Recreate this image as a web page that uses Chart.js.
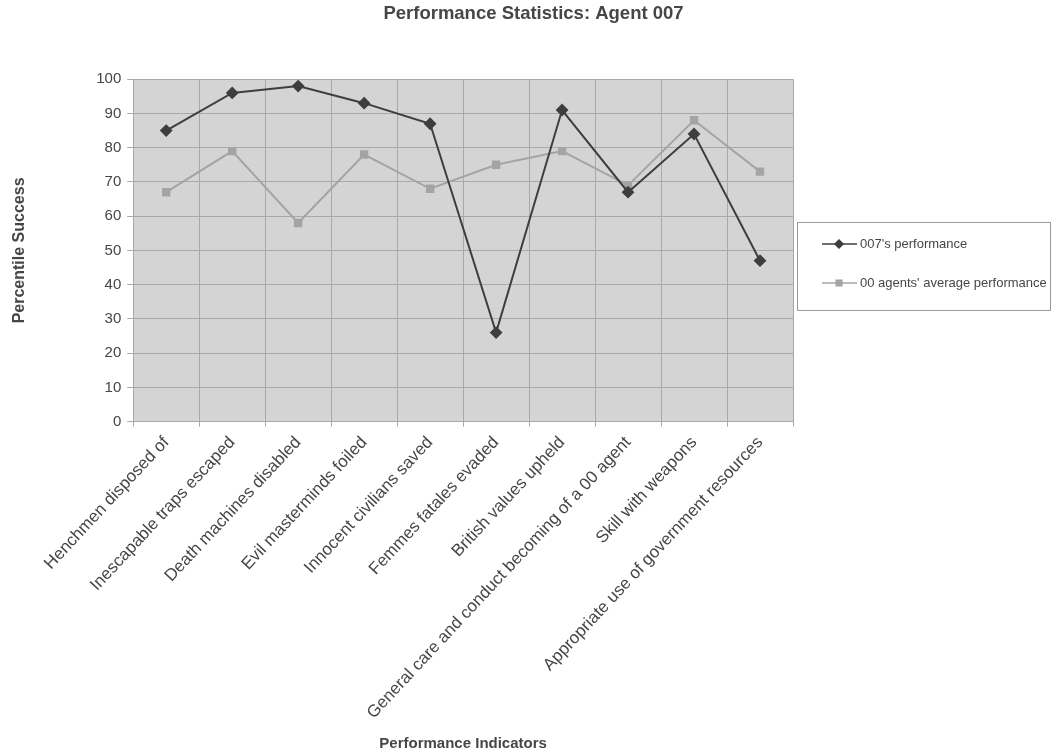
<!DOCTYPE html>
<html>
<head>
<meta charset="utf-8">
<script src="https://cdn.jsdelivr.net/npm/chart.js@4.4.1/dist/chart.umd.min.js"></script>
<style>
  html, body { margin: 0; padding: 0; background: #ffffff; }
  #wrap { width: 1057px; height: 755px; position: relative; }
</style>
</head>
<body>
<div id="wrap"><canvas id="chart"></canvas></div>
<script>
// === Data ===
const categories = [
  "Henchmen disposed of",
  "Inescapable traps escaped",
  "Death machines disabled",
  "Evil masterminds foiled",
  "Innocent civilians saved",
  "Femmes fatales evaded",
  "British values upheld",
  "General care and conduct becoming of a 00 agent",
  "Skill with weapons",
  "Appropriate use of government resources",
];
const bondValues = [85, 96, 98, 93, 87, 26, 91, 67, 84, 47];
const averageValues = [67, 79, 58, 78, 68, 75, 79, 69, 88, 73];
const seriesNames = ["007's performance", "00 agents' average performance"];
const yTicks = [0, 10, 20, 30, 40, 50, 60, 70, 80, 90, 100];

const FONT = "'Liberation Sans', Arial, sans-serif";
const TEXT = "#464646";

// gray plot background
const plotBg = {
  id: "plotBg",
  beforeDraw(chart) {
    const { ctx, chartArea: a } = chart;
    ctx.save();
    ctx.fillStyle = "#d4d4d4";
    ctx.fillRect(a.left, a.top, a.right - a.left, a.bottom - a.top);
    ctx.restore();
  },
};

// boxed legend with line + marker swatches
const boxLegend = {
  id: "boxLegend",
  afterDraw(chart) {
    const { ctx } = chart;
    const x = 797, y = 222, w = 253, h = 88;
    ctx.save();
    ctx.strokeStyle = "#9a9a9a";
    ctx.lineWidth = 1;
    ctx.strokeRect(x + 0.5, y + 0.5, w, h);
    ctx.font = "13px " + FONT;
    ctx.textBaseline = "middle";
    chart.data.datasets.forEach((ds, i) => {
      const ry = 244 + i * 39;
      ctx.strokeStyle = ds.borderColor;
      ctx.lineWidth = 1.5;
      ctx.beginPath();
      ctx.moveTo(822, ry);
      ctx.lineTo(857, ry);
      ctx.stroke();
      ctx.fillStyle = ds.pointBackgroundColor;
      ctx.strokeStyle = ds.pointBorderColor;
      Chart.helpers.drawPoint(ctx, {
        pointStyle: ds.pointStyle, radius: 4, borderWidth: 1,
      }, 839, ry);
      ctx.fillStyle = TEXT;
      ctx.fillText(ds.label, 860, ry);
    });
    ctx.restore();
  },
};

new Chart(document.getElementById("chart"), {
  type: "line",
  data: {
    labels: categories,
    datasets: [
      {
        label: seriesNames[0],
        data: bondValues,
        borderColor: "#3e3e3e",
        borderWidth: 2,
        pointStyle: "rectRot",
        pointRadius: 5,
        pointBackgroundColor: "#3e3e3e",
        pointBorderColor: "#3e3e3e",
        tension: 0,
      },
      {
        label: seriesNames[1],
        data: averageValues,
        borderColor: "#a4a4a4",
        borderWidth: 2,
        pointStyle: "rect",
        pointRadius: 4.5,
        pointBackgroundColor: "#a4a4a4",
        pointBorderColor: "#a4a4a4",
        tension: 0,
      },
    ],
  },
  options: {
    responsive: true,
    maintainAspectRatio: false,
    animation: false,
    layout: { padding: { left: 10, right: 0, top: 0, bottom: 0 } },
    plugins: {
      legend: { display: false },
      tooltip: { enabled: false },
      title: {
        display: true,
        text: "Performance Statistics: Agent 007",
        color: TEXT,
        font: { family: FONT, size: 18.5, weight: "bold" },
        padding: { top: 3, bottom: 54 },
      },
    },
    scales: {
      x: {
        offset: true,
        grid: { offset: true, color: "#a9a9a9", tickLength: 5, tickColor: "#a9a9a9" },
        border: { color: "#a9a9a9" },
        ticks: {
          color: TEXT,
          font: { family: FONT, size: 17 },
          minRotation: 47,
          maxRotation: 47,
          autoSkip: false,
          padding: 6,
        },
        title: {
          display: true,
          text: "Performance Indicators",
          color: TEXT,
          font: { family: FONT, size: 15, weight: "bold" },
          padding: { top: 6, bottom: 2 },
        },
      },
      y: {
        min: yTicks[0],
        max: yTicks[yTicks.length - 1],
        afterBuildTicks(axis) { axis.ticks = yTicks.map(v => ({ value: v })); },
        grid: { color: "#a9a9a9", tickLength: 6, tickColor: "#a9a9a9" },
        border: { color: "#a9a9a9" },
        ticks: {
          color: TEXT,
          font: { family: FONT, size: 15 },
          padding: 6,
        },
        title: {
          display: true,
          text: "Percentile Success",
          color: TEXT,
          font: { family: FONT, size: 16, weight: "bold" },
          padding: { top: 0, bottom: 61 },
        },
      },
      // empty right-hand axis that only reserves the legend column
      legendSpace: {
        type: "linear",
        position: "right",
        grid: { display: false },
        border: { display: false },
        ticks: { display: false },
        afterFit(scale) { scale.width = 264; },
      },
    },
  },
  plugins: [plotBg, boxLegend],
});
</script>
</body>
</html>
